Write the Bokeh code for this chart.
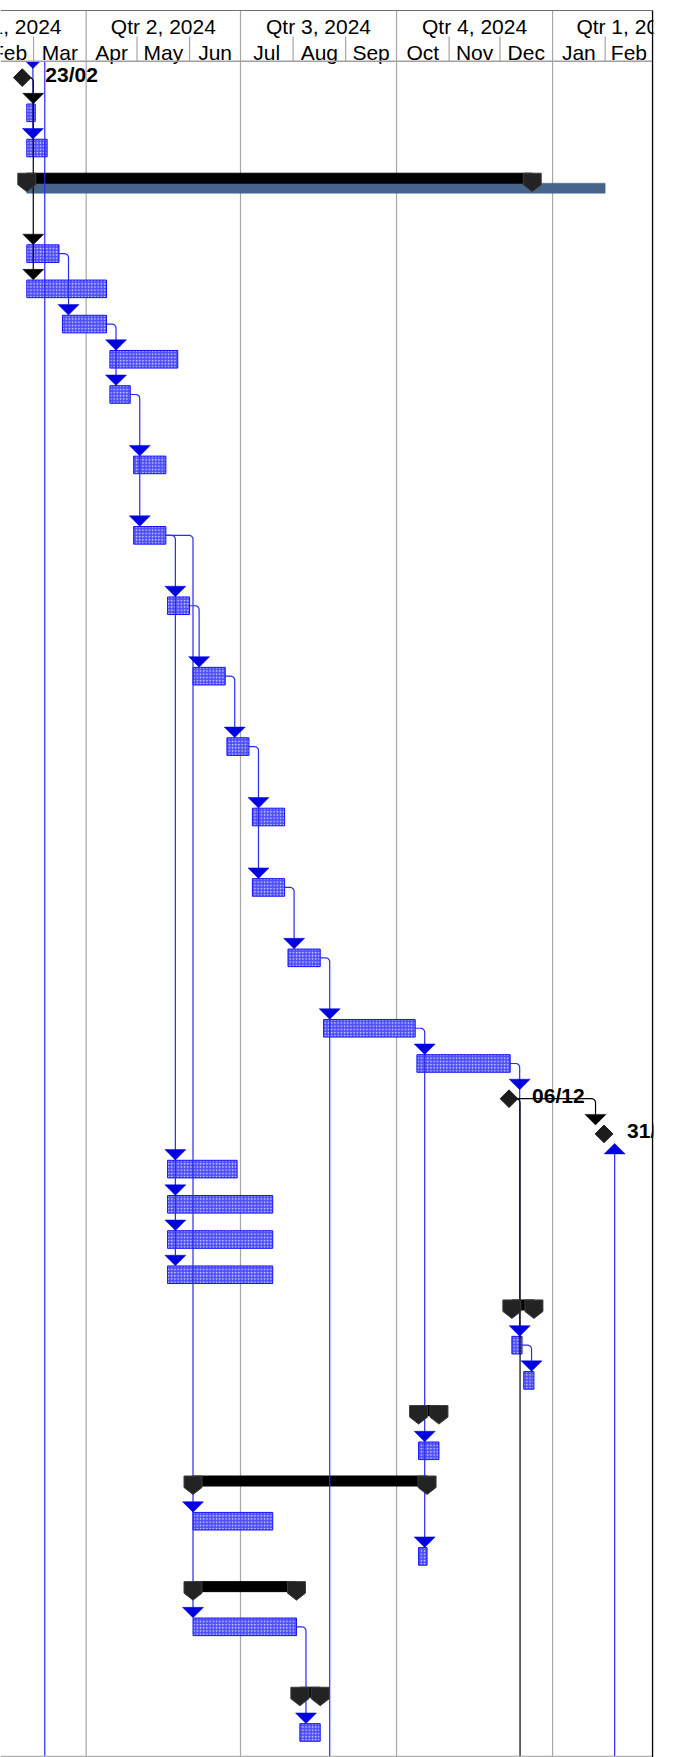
import numpy as np
import pandas as pd
from bokeh.plotting import figure
from bokeh.models import Range1d
from bokeh.core.properties import value
from bokeh.embed import file_html
from bokeh.resources import INLINE

# ---------------- data ----------------
quarter_labels = ["Qtr 1, 2024", "Qtr 2, 2024", "Qtr 3, 2024", "Qtr 4, 2024", "Qtr 1, 2025"]
quarter_starts = ["2024-01-01", "2024-04-01", "2024-07-01", "2024-10-01", "2025-01-01", "2025-04-01"]
month_labels = ["Feb", "Mar", "Apr", "May", "Jun", "Jul", "Aug", "Sep", "Oct", "Nov", "Dec", "Jan", "Feb"]
month_starts = ["2024-02-01", "2024-03-01", "2024-04-01", "2024-05-01", "2024-06-01", "2024-07-01",
                "2024-08-01", "2024-09-01", "2024-10-01", "2024-11-01", "2024-12-01", "2025-01-01",
                "2025-02-01", "2025-03-01"]

task_row = [1, 2, 5, 6, 7, 8, 9, 11, 13, 15, 17, 19, 21, 23, 25, 27, 28,
            31, 32, 33, 34, 36, 37, 39, 41, 42, 44, 47]
task_start = ["2024-02-26", "2024-02-26", "2024-02-26", "2024-02-26", "2024-03-18", "2024-04-15",
              "2024-04-15", "2024-04-29", "2024-04-29", "2024-05-19", "2024-06-03", "2024-06-23",
              "2024-07-08", "2024-07-08", "2024-07-29", "2024-08-19", "2024-10-13",
              "2024-05-19", "2024-05-19", "2024-05-19", "2024-05-19", "2024-12-08", "2024-12-15",
              "2024-10-14", "2024-06-03", "2024-10-14", "2024-06-03", "2024-08-05"]
task_end = ["2024-03-02", "2024-03-09", "2024-03-16", "2024-04-13", "2024-04-13", "2024-05-25",
            "2024-04-27", "2024-05-18", "2024-05-18", "2024-06-01", "2024-06-22", "2024-07-06",
            "2024-07-27", "2024-07-27", "2024-08-17", "2024-10-12", "2024-12-07",
            "2024-06-29", "2024-07-20", "2024-07-20", "2024-07-20", "2024-12-14", "2024-12-21",
            "2024-10-26", "2024-07-20", "2024-10-19", "2024-08-03", "2024-08-17"]

milestone_row = [0, 29, 30]
milestone_date = ["2024-02-23", "2024-12-06", "2025-01-31"]
milestone_label = ["23/02", "06/12", "31/01"]

summary_row = [3, 35, 38, 40, 43, 46]
summary_start = ["2024-02-26", "2024-12-08", "2024-10-14", "2024-06-03", "2024-06-03", "2024-08-05"]
summary_end = ["2024-12-20", "2024-12-21", "2024-10-26", "2024-10-19", "2024-08-03", "2024-08-17"]

project_row = [3]
project_start = ["2024-02-26"]
project_end = ["2025-02-01"]

BELOW = 99  # successor below the visible rows
link_pred = [0, 5, 7, 9, 13, 15, 17, 19, 23, 25, 27, 28, 29, 36, 44]
link_succ = [[1, 5, 6], [7], [8, 9], [11, 13], [15, 31, 32, 33, 34, 41, 44], [17], [19],
             [21, 23], [25], [27, BELOW], [28, 39, 42], [29, 36], [30, BELOW], [37], [47]]

# links whose predecessor lies outside the visible rows
ext_pred_end = ["2024-02-24", "2024-03-02", "2025-02-01"]
ext_from = ["top", "top", "bottom"]
ext_succ = [[0, 2], [BELOW], [30]]

# ---------------- scales / layout ----------------
def ms(s):
    return pd.Timestamp(s).value / 1e6

FIG_W, FIG_H = 660, 1757
FRAME_W = 653
X0 = ms("2024-02-10 12:00")
X1 = ms("2025-03-01 12:00")
PXMS = (X1 - X0) / FRAME_W
ROW_PX = 35.21
ROW0_PX = 77.1

def ypx(px):
    return (px - ROW0_PX) / ROW_PX

def dy(px):
    return px / ROW_PX

def dx(px):
    return px * PXMS

Y_TOP = ypx(0)
Y_BOT = ypx(FIG_H)
Y_HEAD = ypx(60.7)
MS_SHIFT = 8 * 3600 * 1000  # milestone drawn at 8:00 of its day

BLUE_LINE = "#2a2af0"
BLUE_ARROW = "#0000e0"
BLACK = "#000000"
GRID = "#a6a6a6"
FONT = value("Liberation Sans")

p = figure(width=FIG_W, height=FIG_H, x_range=Range1d(X0, X1), y_range=Range1d(Y_BOT, Y_TOP),
           x_axis_location=None, y_axis_location=None, toolbar_location=None,
           output_backend="svg", min_border=0, min_border_right=FIG_W - FRAME_W,
           outline_line_color=None, background_fill_color="white", border_fill_color="white")
p.xgrid.visible = False
p.ygrid.visible = False

# quarter gridlines
q_ms = [ms(q) for q in quarter_starts]
grid_x = [q for q in q_ms if X0 < q < X1]
p.segment(x0=grid_x, y0=[ypx(10)] * len(grid_x), x1=grid_x, y1=[Y_BOT + 1] * len(grid_x),
          line_color=GRID, line_width=1.2)

# lookup of positions
start_of, finish_of, is_ms = {}, {}, {}
for r, s, e in zip(task_row, task_start, task_end):
    start_of[r] = ms(s)
    finish_of[r] = ms(e)
    is_ms[r] = False
mcx = [ms(d) + MS_SHIFT for d in milestone_date]
for r, c in zip(milestone_row, mcx):
    start_of[r] = c - dx(8.5)
    finish_of[r] = c + dx(1.5)
    is_ms[r] = True

# project (baseline-like) bar under the summary
p.quad(left=[ms(s) for s in project_start], right=[ms(e) for e in project_end],
       top=[r + dy(0) for r in project_row], bottom=[r + dy(10) for r in project_row],
       fill_color="#46648c", line_color="#46648c", line_width=0.5)

# task bars
p.quad(left=[ms(s) for s in task_start], right=[ms(e) for e in task_end],
       top=[r - dy(8.8) for r in task_row], bottom=[r + dy(8.8) for r in task_row],
       fill_color="#4f4fff", line_color="#1414ff", line_width=1,
       hatch_pattern=".", hatch_color="#e4e4ff", hatch_scale=3.2, hatch_weight=1.4, hatch_alpha=0.9)

# summary bars
p.quad(left=[ms(s) for s in summary_start], right=[ms(e) for e in summary_end],
       top=[r - dy(10) for r in summary_row], bottom=[r + dy(0) for r in summary_row],
       fill_color=BLACK, line_color=BLACK)

# ---------------- links ----------------
R = 4.0
def corner_path(x0, y0, xt, y1):
    xs, ys = [x0], [y0]
    if xt - x0 > dx(R):
        for a in np.linspace(0, np.pi / 2, 7):
            xs.append(xt - dx(R) + dx(R) * np.sin(a))
            ys.append(y0 + dy(R) - dy(R) * np.cos(a))
    else:
        xs.append(xt)
        ys.append(y0)
    xs.append(xt)
    ys.append(y1)
    return xs, ys

def down_arrow(x, r):
    return [x - dx(10.5), x + dx(10.5), x], [r - dy(19.5), r - dy(19.5), r - dy(9)]

def up_arrow(x, r):
    return [x - dx(10.5), x + dx(10.5), x], [r + dy(20), r + dy(20), r + dy(9.5)]

lines = {"blue": ([], []), "black": ([], [])}
arrows = {"blue": ([], []), "black": ([], [])}

for pred, succs in zip(link_pred, link_succ):
    col = "black" if is_ms[pred] else "blue"
    x_end = finish_of[pred]
    groups = {}
    for s in succs:
        st = start_of.get(s, -np.inf)
        turn = max(x_end + dx(9.5), st)
        groups.setdefault(turn, []).append(s)
    for turn, ss in groups.items():
        last = max(ss)
        y_end = Y_BOT + 1 if last == BELOW else last - dy(19.5)
        xs, ys = corner_path(x_end, pred, turn, y_end)
        lines[col][0].append(xs)
        lines[col][1].append(ys)
        for s in ss:
            if s != BELOW:
                ax, ay = down_arrow(turn, s)
                arrows[col][0].append(ax)
                arrows[col][1].append(ay)

for pe, frm, succs in zip(ext_pred_end, ext_from, ext_succ):
    x = ms(pe) + dx(9.5)
    if frm == "top":
        last = max(succs)
        y1 = Y_BOT + 1 if last == BELOW else last - dy(19.5)
        lines["blue"][0].append([x, x])
        lines["blue"][1].append([Y_HEAD, y1])
        for s in succs:
            if s != BELOW:
                ax, ay = down_arrow(x, s)
                arrows["blue"][0].append(ax)
                arrows["blue"][1].append(ay)
    else:
        first = min(succs)
        lines["blue"][0].append([x, x])
        lines["blue"][1].append([Y_BOT + 1, first + dy(20)])
        for s in succs:
            ax, ay = up_arrow(x, s)
            arrows["blue"][0].append(ax)
            arrows["blue"][1].append(ay)

p.multi_line(xs=lines["blue"][0], ys=lines["blue"][1], line_color=BLUE_LINE, line_width=1.2)
p.multi_line(xs=lines["black"][0], ys=lines["black"][1], line_color=BLACK, line_width=1.2)
p.patches(xs=arrows["blue"][0], ys=arrows["blue"][1], fill_color=BLUE_ARROW, line_color=BLUE_ARROW, line_width=0.5)
p.patches(xs=arrows["black"][0], ys=arrows["black"][1], fill_color=BLACK, line_color=BLACK, line_width=0.5)

# summary end caps
def pent(x, r):
    hw = dx(9)
    return ([x - hw, x + hw, x + hw, x, x - hw],
            [r - dy(10), r - dy(10), r + dy(1.5), r + dy(8.5), r + dy(1.5)])

px_, py_ = [], []
for r, s, e in zip(summary_row, summary_start, summary_end):
    for x in (ms(s), ms(e)):
        a, b = pent(x, r)
        px_.append(a)
        py_.append(b)
p.patches(xs=px_, ys=py_, fill_color="#232323", line_color="#3c3c3c", line_width=1)

# milestones
p.scatter(x=mcx, y=milestone_row, marker="square", size=12.5, angle=np.pi / 4,
          fill_color="#1c1c1c", line_color="#1c1c1c")
p.text(x=[c + dx(23) for c in mcx], y=[r - dy(3) for r in milestone_row], text=milestone_label,
       text_font=FONT, text_font_size="21px", text_font_style="bold", text_color=BLACK,
       text_align="left", text_baseline="middle")

# ---------------- timescale header ----------------
p.quad(left=[X0 - dx(5)], right=[X1 + dx(5)], top=[Y_TOP - 1], bottom=[Y_HEAD],
       fill_color="white", line_color=None)
q_mid = [(a + b) / 2 for a, b in zip(q_ms[:-1], q_ms[1:])]
p.text(x=q_mid, y=[ypx(26)] * len(q_mid), text=quarter_labels, text_font=FONT,
       text_font_size="21px", text_color=BLACK, text_align="center", text_baseline="middle")
m_ms = [ms(m) for m in month_starts]
m_mid = [(a + b) / 2 for a, b in zip(m_ms[:-1], m_ms[1:])]
p.text(x=m_mid, y=[ypx(51.5)] * len(m_mid), text=month_labels, text_font=FONT,
       text_font_size="21px", text_color=BLACK, text_align="center", text_baseline="middle")
m_div = [m for m in m_ms[:-1] if X0 < m < X1 and m not in q_ms]
p.segment(x0=m_div, y0=[ypx(36)] * len(m_div), x1=m_div, y1=[Y_HEAD] * len(m_div),
          line_color=GRID, line_width=1.2)
p.segment(x0=grid_x, y0=[ypx(10)] * len(grid_x), x1=grid_x, y1=[ypx(61)] * len(grid_x),
          line_color=GRID, line_width=1.2)
p.segment(x0=[X0], y0=[ypx(10)], x1=[m_ms[-1]], y1=[ypx(10)], line_color="#707070", line_width=1.2)
p.segment(x0=[X0], y0=[Y_HEAD], x1=[m_ms[-1]], y1=[Y_HEAD], line_color="#a0a0a0", line_width=1.6)
p.segment(x0=[X0], y0=[ypx(1756)], x1=[m_ms[-1]], y1=[ypx(1756)], line_color="#b0b0b0", line_width=1.5)
p.segment(x0=[m_ms[-1]], y0=[ypx(10)], x1=[m_ms[-1]], y1=[Y_BOT + 1], line_color=BLACK, line_width=1.5)

open("out.html", "w").write(file_html(p, INLINE))
